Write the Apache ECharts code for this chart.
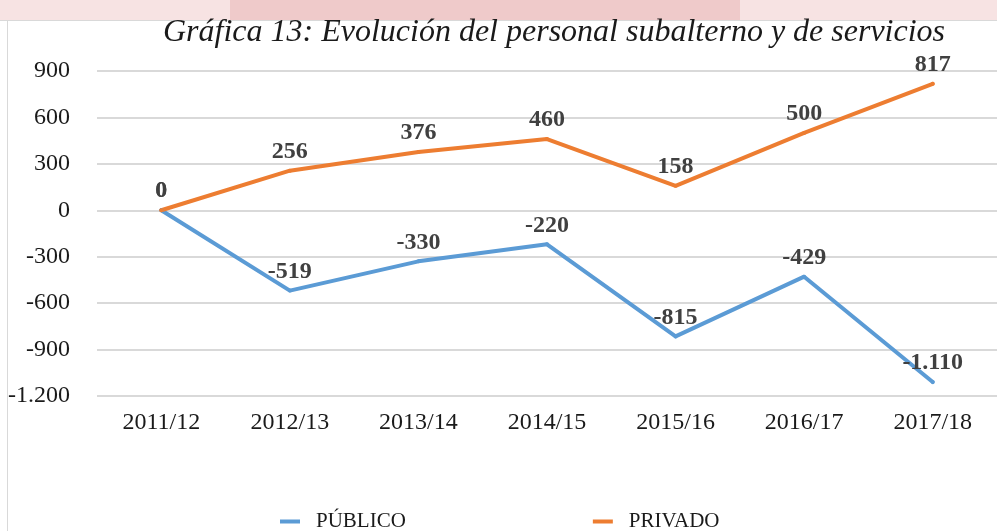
<!DOCTYPE html>
<html>
<head>
<meta charset="utf-8">
<script src="https://cdn.jsdelivr.net/npm/echarts@6/dist/echarts.min.js"></script>
<style>
  html, body { margin: 0; padding: 0; background: #fff; }
  #chart { width: 997px; height: 531px; }
</style>
</head>
<body>
<div id="chart"></div>
<script>
const categories = ['2011/12', '2012/13', '2013/14', '2014/15', '2015/16', '2016/17', '2017/18'];
const publico = [0, -519, -330, -220, -815, -429, -1110];
const privado = [0, 256, 376, 460, 158, 500, 817];
const titleText = 'Gráfica 13: Evolución del personal subalterno y de servicios';

// separador de miles con punto, como en el original
function fmt(v) {
    const s = Math.abs(v).toString().replace(/\B(?=(\d{3})+(?!\d))/g, '.');
    return (v < 0 ? '-' : '') + s;
}

const serif = '"Liberation Serif", "DejaVu Serif", serif';
const chart = echarts.init(document.getElementById('chart'));

const labelStyle = {
    show: true,
    position: 'top',
    distance: 5,
    fontFamily: serif,
    fontWeight: 'bold',
    fontSize: 24,
    color: '#404040',
    formatter: p => fmt(p.value)
};

// el símbolo queda oculto bajo la línea de 4px, sólo sirve para las etiquetas
function lineSeries(name, data, color) {
    return {
        name: name,
        type: 'line',
        data: data,
        showSymbol: true,
        symbol: 'circle',
        symbolSize: 4,
        itemStyle: { color: color },
        color: color,
        lineStyle: { width: 4, color: color, cap: 'round', join: 'round' },
        label: labelStyle
    };
}

chart.setOption({
    backgroundColor: '#fff',
    animation: false,
    graphic: [
        { type: 'rect', shape: { x: 0, y: 0, width: 997, height: 20 }, style: { fill: '#f7e3e3' }, silent: true },
        { type: 'rect', shape: { x: 230, y: 0, width: 510, height: 20 }, style: { fill: '#efcaca' }, silent: true },
        { type: 'line', shape: { x1: 0, y1: 20.5, x2: 997, y2: 20.5 }, style: { stroke: '#d9d9d9', lineWidth: 1 }, silent: true },
        { type: 'line', shape: { x1: 7.5, y1: 20, x2: 7.5, y2: 531 }, style: { stroke: '#d9d9d9', lineWidth: 1 }, silent: true }
    ],
    title: {
        text: titleText,
        left: 549,
        top: 12,
        textAlign: 'center',
        textStyle: {
            fontFamily: serif,
            fontStyle: 'italic',
            fontWeight: 'normal',
            fontSize: 32,
            color: '#1a1a1a'
        }
    },
    legend: {
        bottom: -6,
        left: 275,
        itemGap: 187,
        itemWidth: 20,
        itemHeight: 4,
        icon: 'rect',
        textStyle: { fontFamily: serif, fontSize: 21, color: '#1a1a1a', padding: [0, 0, 0, 11] },
        data: ['PÚBLICO', 'PRIVADO']
    },
    grid: { left: 97, width: 908, top: 71, height: 325 },
    xAxis: {
        type: 'category',
        data: categories,
        boundaryGap: true,
        axisLine: { show: false },
        axisTick: { show: false },
        axisLabel: { fontFamily: serif, fontSize: 24, color: '#1a1a1a', margin: 15 }
    },
    yAxis: {
        type: 'value',
        min: -1200,
        max: 900,
        interval: 300,
        axisLine: { show: false },
        axisTick: { show: false },
        axisLabel: { fontFamily: serif, fontSize: 24, color: '#1a1a1a', margin: 27, formatter: v => fmt(v) },
        splitLine: { lineStyle: { color: '#d9d9d9', width: 2 } }
    },
    series: [
        lineSeries('PÚBLICO', publico, '#5b9bd5'),
        lineSeries('PRIVADO', privado, '#ed7d31')
    ]
});
</script>
</body>
</html>
